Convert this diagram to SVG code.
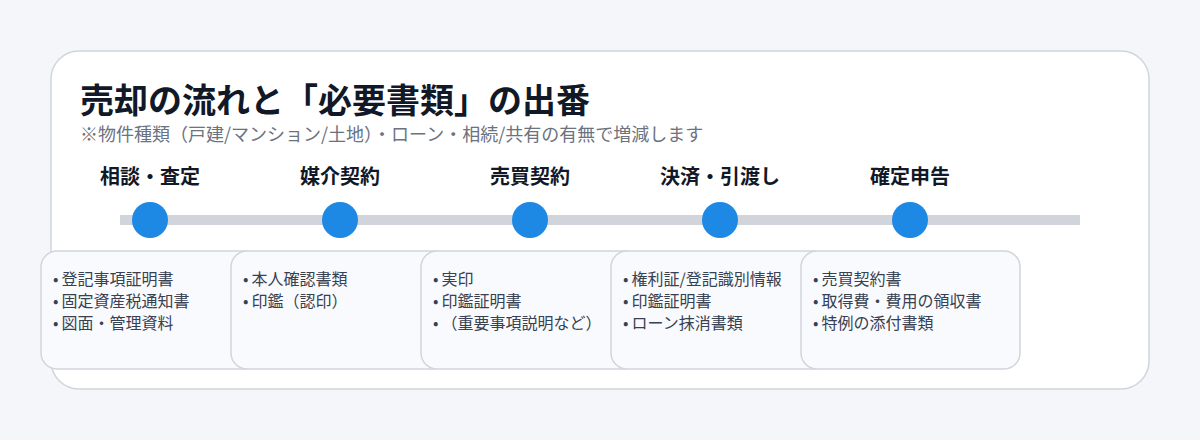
<svg xmlns="http://www.w3.org/2000/svg" width="1200" height="440" viewBox="0 0 1200 440">
<style>
.title{font-family:"Noto Sans CJK JP","Noto Sans",sans-serif;font-weight:700;font-size:34px;fill:#111827}
.sub{font-family:"Noto Sans CJK JP","Noto Sans",sans-serif;font-size:18px;fill:#6b7280}
.step{font-family:"Noto Sans CJK JP","Noto Sans",sans-serif;font-weight:700;font-size:20px;fill:#111827;text-anchor:middle}
.item{font-family:"Noto Sans CJK JP","Noto Sans",sans-serif;font-size:16px;fill:#374151}
.box{fill:#f9fafe;stroke:#d1d5db;stroke-width:1.5}
.dot{fill:#1e88e5}
</style>
<rect width="1200" height="440" fill="#f5f6fa"/>
<rect x="51" y="51" width="1098" height="338" rx="28" fill="#ffffff" stroke="#d1d5db" stroke-width="1.5"/>
<text class="title" x="80" y="113">売却の流れと「必要書類」の出番</text>
<text class="sub" x="80" y="141">※物件種類（戸建/マンション/土地）・ローン・相続/共有の有無で増減します</text>
<g id="connectors">
<rect x="120" y="215" width="960" height="10" fill="#d1d5db"/>
</g>
<g id="step1">
<text class="step" x="150" y="184">相談・査定</text>
<circle class="dot" cx="150" cy="220" r="18"/>
<rect class="box" x="41" y="251" width="219" height="118" rx="16"/>
<text class="item" x="53" y="285">•<tspan dx="3">登記事項証明書</tspan></text>
<text class="item" x="53" y="307">•<tspan dx="3">固定資産税通知書</tspan></text>
<text class="item" x="53" y="329">•<tspan dx="3">図面・管理資料</tspan></text>
</g>
<g id="step2">
<text class="step" x="340" y="184">媒介契約</text>
<circle class="dot" cx="340" cy="220" r="18"/>
<rect class="box" x="231" y="251" width="219" height="118" rx="16"/>
<text class="item" x="243" y="285">•<tspan dx="3">本人確認書類</tspan></text>
<text class="item" x="243" y="307">•<tspan dx="3">印鑑（認印）</tspan></text>
</g>
<g id="step3">
<text class="step" x="530" y="184">売買契約</text>
<circle class="dot" cx="530" cy="220" r="18"/>
<rect class="box" x="421" y="251" width="219" height="118" rx="16"/>
<text class="item" x="433" y="285">•<tspan dx="3">実印</tspan></text>
<text class="item" x="433" y="307">•<tspan dx="3">印鑑証明書</tspan></text>
<text class="item" x="433" y="329">•<tspan dx="3">（重要事項説明など）</tspan></text>
</g>
<g id="step4">
<text class="step" x="720" y="184">決済・引渡し</text>
<circle class="dot" cx="720" cy="220" r="18"/>
<rect class="box" x="611" y="251" width="219" height="118" rx="16"/>
<text class="item" x="623" y="285">•<tspan dx="3">権利証/登記識別情報</tspan></text>
<text class="item" x="623" y="307">•<tspan dx="3">印鑑証明書</tspan></text>
<text class="item" x="623" y="329">•<tspan dx="3">ローン抹消書類</tspan></text>
</g>
<g id="step5">
<text class="step" x="910" y="184">確定申告</text>
<circle class="dot" cx="910" cy="220" r="18"/>
<rect class="box" x="801" y="251" width="219" height="118" rx="16"/>
<text class="item" x="813" y="285">•<tspan dx="3">売買契約書</tspan></text>
<text class="item" x="813" y="307">•<tspan dx="3">取得費・費用の領収書</tspan></text>
<text class="item" x="813" y="329">•<tspan dx="3">特例の添付書類</tspan></text>
</g>
</svg>
